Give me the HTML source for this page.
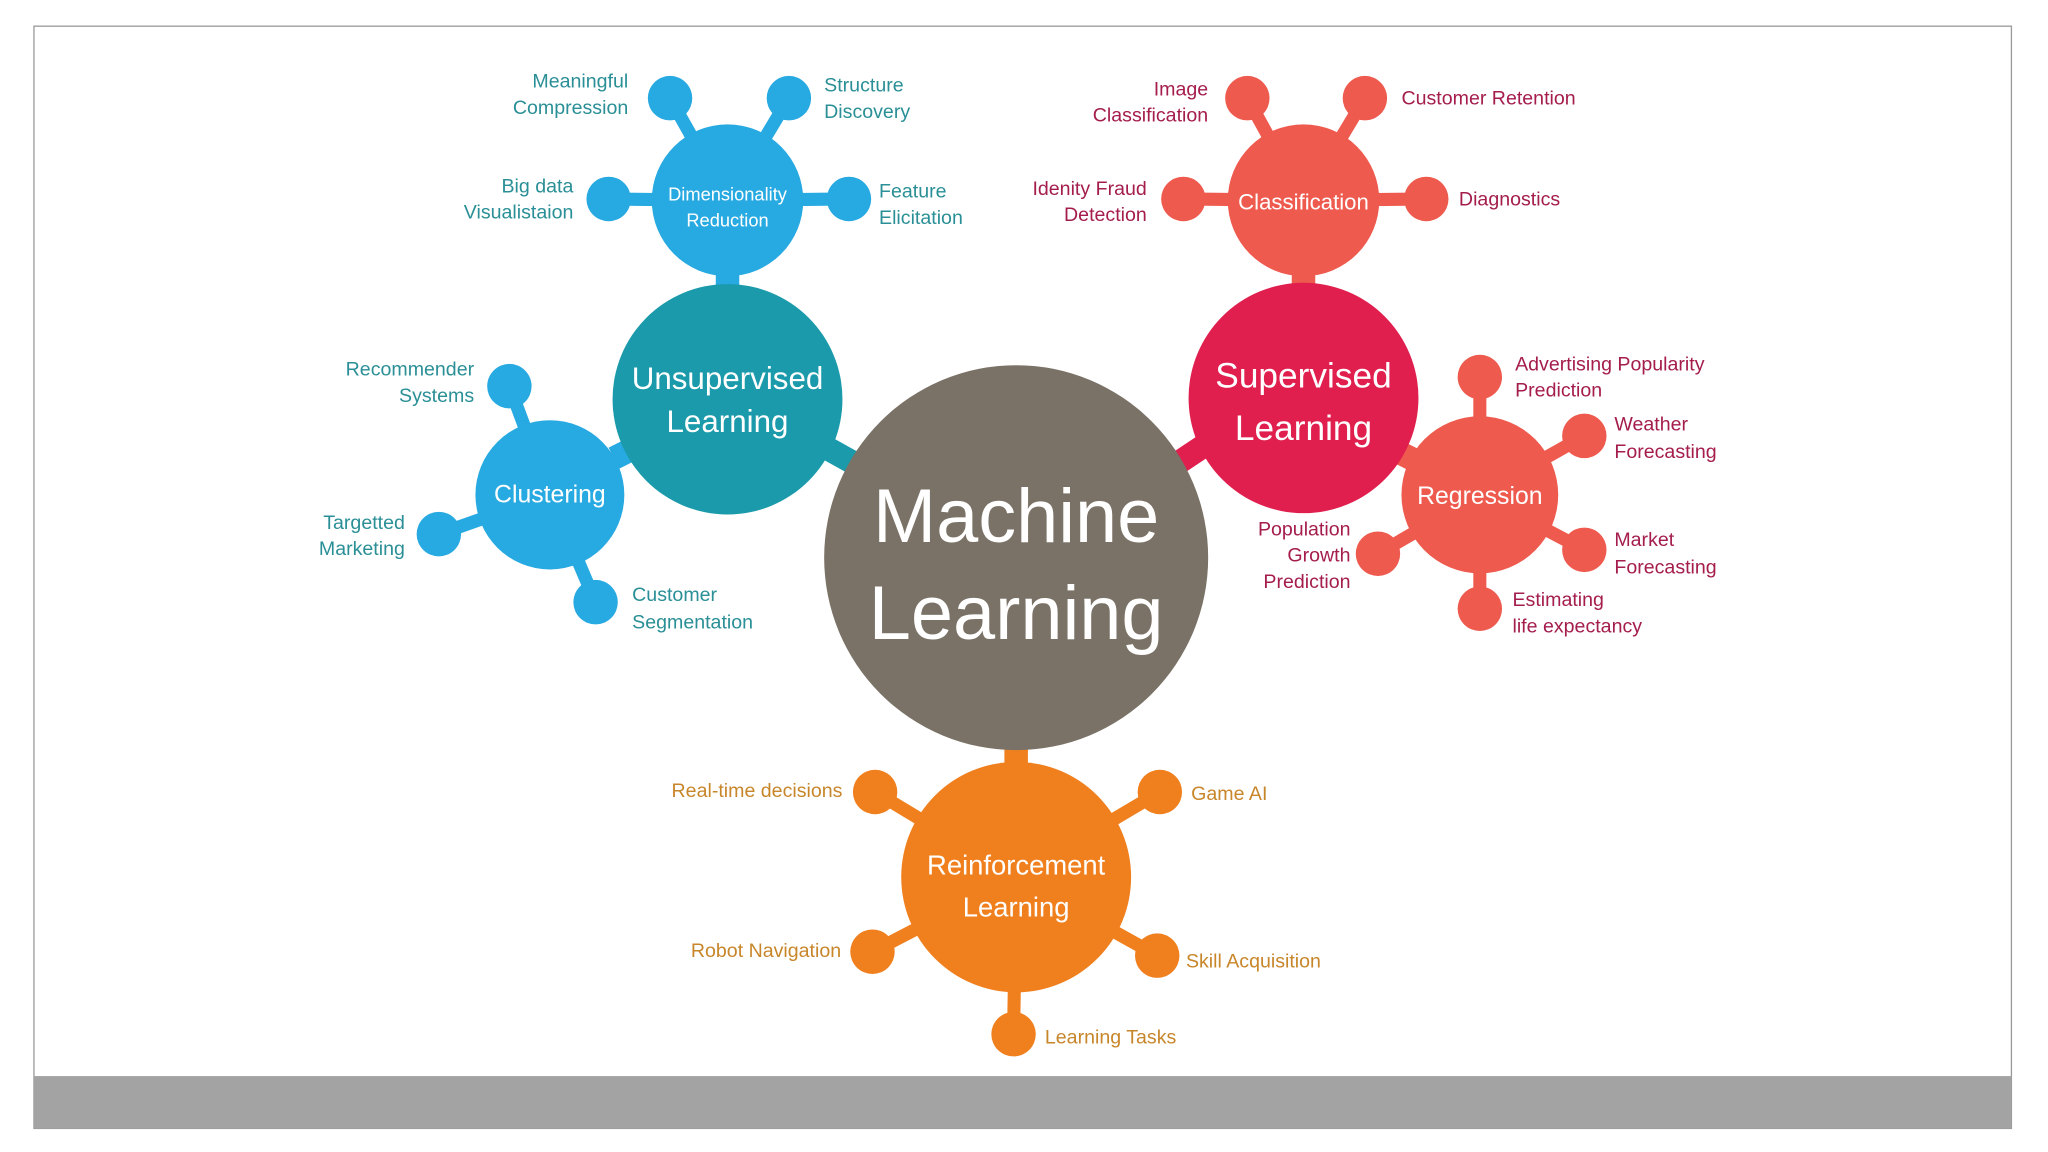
<!DOCTYPE html>
<html><head><meta charset="utf-8"><style>
html,body{margin:0;padding:0;background:#fff;width:2048px;height:1152px;overflow:hidden}
svg{display:block}
text{font-family:"Liberation Sans","DejaVu Sans",sans-serif}
.b{fill:#2a8f96;font-size:15px}
.r{fill:#a41d4c;font-size:15px}
.o{fill:#c8862a;font-size:15px}
.w{fill:#fff}
</style></head><body>
<svg width="2048" height="1152" viewBox="0 0 1568 880" preserveAspectRatio="none">
<rect x="0" y="0" width="1568" height="880" fill="#fff"/>
<rect x="26" y="20" width="1514" height="842" fill="#fff" stroke="#9a9a9a" stroke-width="1"/>
<rect x="26" y="822" width="1514" height="40" fill="#a3a3a3"/>

<!-- Unsupervised group -->
<g stroke="#27a9e1" stroke-width="10">
<line x1="557" y1="153" x2="513" y2="75"/><line x1="557" y1="153" x2="604" y2="75"/>
<line x1="557" y1="153" x2="466" y2="152"/><line x1="557" y1="153" x2="650" y2="152"/>
<line x1="421" y1="378" x2="390" y2="295"/><line x1="421" y1="378" x2="336" y2="408"/>
<line x1="421" y1="378" x2="456" y2="460"/>
</g>
<line x1="557" y1="200" x2="557" y2="230" stroke="#27a9e1" stroke-width="18"/>
<line x1="470" y1="350" x2="500" y2="335" stroke="#27a9e1" stroke-width="18"/>
<line x1="620" y1="335" x2="665" y2="360" stroke="#1a9aaa" stroke-width="18"/>
<g fill="#27a9e1">
<circle cx="513" cy="75" r="17"/><circle cx="604" cy="75" r="17"/><circle cx="466" cy="152" r="17"/><circle cx="650" cy="152" r="17"/>
<circle cx="557" cy="153" r="58"/>
<circle cx="390" cy="295" r="17"/><circle cx="336" cy="408" r="17"/><circle cx="456" cy="460" r="17"/>
<circle cx="421" cy="378" r="57"/>
</g>
<circle cx="557" cy="305" r="88" fill="#1a9aaa"/>

<!-- Supervised group -->
<g stroke="#ef5a4e" stroke-width="10">
<line x1="998" y1="153" x2="955" y2="75"/><line x1="998" y1="153" x2="1045" y2="75"/>
<line x1="998" y1="153" x2="906" y2="152"/><line x1="998" y1="153" x2="1092" y2="152"/>
<line x1="1133" y1="378" x2="1133" y2="288"/><line x1="1133" y1="378" x2="1213" y2="333"/>
<line x1="1133" y1="378" x2="1213" y2="420"/><line x1="1133" y1="378" x2="1133" y2="465"/>
<line x1="1133" y1="378" x2="1055" y2="423"/>
</g>
<line x1="998" y1="200" x2="998" y2="230" stroke="#ef5a4e" stroke-width="18"/>
<line x1="1070" y1="345" x2="1090" y2="355" stroke="#ef5a4e" stroke-width="18"/>
<line x1="900" y1="355" x2="930" y2="335" stroke="#e01f4f" stroke-width="18"/>
<g fill="#ef5a4e">
<circle cx="955" cy="75" r="17"/><circle cx="1045" cy="75" r="17"/><circle cx="906" cy="152" r="17"/><circle cx="1092" cy="152" r="17"/>
<circle cx="998" cy="153" r="58"/>
<circle cx="1133" cy="288" r="17"/><circle cx="1213" cy="333" r="17"/><circle cx="1213" cy="420" r="17"/><circle cx="1133" cy="465" r="17"/><circle cx="1055" cy="423" r="17"/>
<circle cx="1133" cy="378" r="60"/>
</g>
<circle cx="998" cy="304" r="88" fill="#e01f4f"/>

<!-- Reinforcement -->
<g stroke="#f07f1e" stroke-width="10">
<line x1="778" y1="670" x2="670" y2="605"/><line x1="778" y1="670" x2="888" y2="605"/>
<line x1="778" y1="670" x2="668" y2="727"/><line x1="778" y1="670" x2="886" y2="730"/>
<line x1="778" y1="670" x2="776" y2="790"/>
</g>
<line x1="778" y1="560" x2="778" y2="595" stroke="#f07f1e" stroke-width="18"/>
<g fill="#f07f1e">
<circle cx="670" cy="605" r="17"/><circle cx="888" cy="605" r="17"/><circle cx="668" cy="727" r="17"/><circle cx="886" cy="730" r="17"/><circle cx="776" cy="790" r="17"/>
<circle cx="778" cy="670" r="88"/>
</g>

<circle cx="778" cy="426" r="147" fill="#7a7266"/>

<!-- main labels -->
<text class="w" x="778" y="414" text-anchor="middle" font-size="58">Machine</text>
<text class="w" x="778" y="488" text-anchor="middle" font-size="58">Learning</text>
<text class="w" x="557" y="297" text-anchor="middle" font-size="24">Unsupervised</text>
<text class="w" x="557" y="330" text-anchor="middle" font-size="24">Learning</text>
<text class="w" x="998" y="296" text-anchor="middle" font-size="27">Supervised</text>
<text class="w" x="998" y="336" text-anchor="middle" font-size="27">Learning</text>
<text class="w" x="778" y="668" text-anchor="middle" font-size="21">Reinforcement</text>
<text class="w" x="778" y="700" text-anchor="middle" font-size="21">Learning</text>
<text class="w" x="557" y="153" text-anchor="middle" font-size="14">Dimensionality</text>
<text class="w" x="557" y="173" text-anchor="middle" font-size="14">Reduction</text>
<text class="w" x="421" y="384" text-anchor="middle" font-size="19">Clustering</text>
<text class="w" x="998" y="160" text-anchor="middle" font-size="17">Classification</text>
<text class="w" x="1133" y="385" text-anchor="middle" font-size="19">Regression</text>

<!-- blue leaf labels -->
<text class="b" x="481" y="67" text-anchor="end">Meaningful</text>
<text class="b" x="481" y="87" text-anchor="end">Compression</text>
<text class="b" x="631" y="70">Structure</text>
<text class="b" x="631" y="90">Discovery</text>
<text class="b" x="439" y="147" text-anchor="end">Big data</text>
<text class="b" x="439" y="167" text-anchor="end">Visualistaion</text>
<text class="b" x="673" y="151">Feature</text>
<text class="b" x="673" y="171">Elicitation</text>
<text class="b" x="363" y="287" text-anchor="end">Recommender</text>
<text class="b" x="363" y="307" text-anchor="end">Systems</text>
<text class="b" x="310" y="404" text-anchor="end">Targetted</text>
<text class="b" x="310" y="424" text-anchor="end">Marketing</text>
<text class="b" x="484" y="459">Customer</text>
<text class="b" x="484" y="480">Segmentation</text>

<!-- red leaf labels -->
<text class="r" x="925" y="73" text-anchor="end">Image</text>
<text class="r" x="925" y="93" text-anchor="end">Classification</text>
<text class="r" x="1073" y="80">Customer Retention</text>
<text class="r" x="878" y="149" text-anchor="end">Idenity Fraud</text>
<text class="r" x="878" y="169" text-anchor="end">Detection</text>
<text class="r" x="1117" y="157">Diagnostics</text>
<text class="r" x="1160" y="283">Advertising Popularity</text>
<text class="r" x="1160" y="303">Prediction</text>
<text class="r" x="1236" y="329">Weather</text>
<text class="r" x="1236" y="350">Forecasting</text>
<text class="r" x="1236" y="417">Market</text>
<text class="r" x="1236" y="438">Forecasting</text>
<text class="r" x="1158" y="463">Estimating</text>
<text class="r" x="1158" y="483">life expectancy</text>
<text class="r" x="1034" y="409" text-anchor="end">Population</text>
<text class="r" x="1034" y="429" text-anchor="end">Growth</text>
<text class="r" x="1034" y="449" text-anchor="end">Prediction</text>

<!-- orange leaf labels -->
<text class="o" x="645" y="609" text-anchor="end">Real-time decisions</text>
<text class="o" x="912" y="611">Game AI</text>
<text class="o" x="644" y="731" text-anchor="end">Robot Navigation</text>
<text class="o" x="908" y="739">Skill Acquisition</text>
<text class="o" x="800" y="797">Learning Tasks</text>
</svg>
</body></html>
